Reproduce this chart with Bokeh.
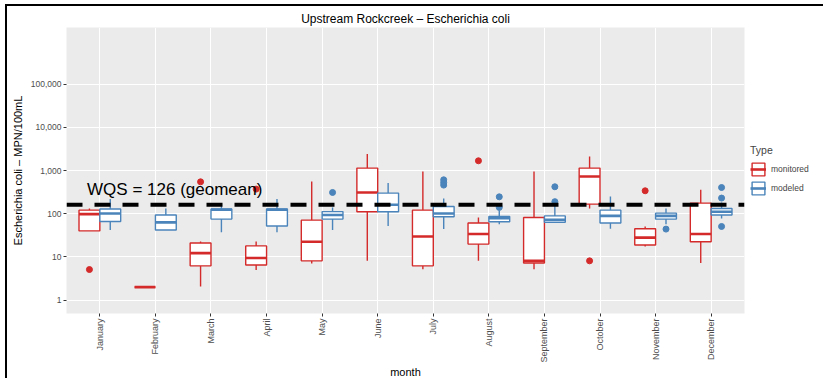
import numpy as np
from bokeh.plotting import figure
from bokeh.models import (Range1d, FixedTicker, NumeralTickFormatter, Span, Label,
                          Legend, LegendItem, ColumnDataSource)
from bokeh.embed import file_html
from bokeh.resources import INLINE

months = ["January", "February", "March", "April", "May", "June", "July",
          "August", "September", "October", "November", "December"]

# monitored (red) box statistics
mon_lo  = [40, 2, 2.06, 5.0, 7.0, 8.1, 5.2, 8.1, 5.2, 132, 17.4, 7.2]
mon_q1  = [40, 2, 6.2, 6.5, 8.1, 111, 6.2, 19.8, 7.2, 167, 18.8, 22.4]
mon_med = [98, 2, 12.2, 9.4, 22.4, 310, 29.7, 34, 8.1, 726, 28, 34]
mon_q3  = [121, 2, 20.9, 18, 71, 1136, 121, 61, 82, 1136, 45, 176]
mon_hi  = [132, 2, 22.7, 22.7, 556, 2398, 948, 82, 948, 2110, 50.5, 357]
mon_out_month = ["January", "March", "April", "August", "October", "November"]
mon_out_value = [5.1, 547, 371, 1678, 8.1, 339]

# modeled (blue) box statistics
mod_lo  = [42, 42, 37, 37, 42, 52, 44, 57, 63, 45, 57, 77]
mod_q1  = [66, 42, 75, 52, 75, 111, 85, 65, 63, 61, 75, 93]
mod_med = [101, 63, 123, 123, 93, 161, 101, 79, 72, 89, 89, 111]
mod_q3  = [128, 93, 128, 128, 112, 300, 147, 86, 89, 121, 103, 132]
mod_hi  = [218, 132, 172, 218, 139, 511, 225, 118, 170, 250, 132, 182]
mod_out_month = ["May", "July", "July", "July", "August", "August",
                 "September", "September", "November", "December", "December", "December"]
mod_out_value = [310, 459, 527, 609, 246, 140, 190, 420, 44, 230, 404, 50.6]

wqs_value = 161
wqs_text = "WQS = 126 (geomean)"

RED = "#D42A2A"
BLUE = "#4A84BA"
FONT = "Liberation Sans"

p = figure(frame_width=678, frame_height=286, output_backend="svg", toolbar_location=None,
           y_axis_type="log",
           x_range=Range1d(0.4, 12.6), y_range=Range1d(10 ** -0.31, 10 ** 6.31),
           min_border_left=66, min_border_right=78, min_border_top=27, min_border_bottom=65,
           title="Upstream Rockcreek – Escherichia coli",
           x_axis_label="month", y_axis_label="Escherichia coli – MPN/100mL")

p.background_fill_color = "#EBEBEB"
p.border_fill_color = None
p.outline_line_color = None
# slide frame lines (top and left edges of the screenshot) drawn as page background
p.styles = {
    "background-color": "white",
    "background-image": "linear-gradient(black, black), linear-gradient(black, black)",
    "background-size": "100% 2px, 2px 100%",
    "background-position": "5px 4px, 5px 4px",
    "background-repeat": "no-repeat",
}

idx = {m: i + 1 for i, m in enumerate(months)}
off = 0.1875
bw = 0.375


def draw(lo, q1, med, q3, hi, om, ov, color, shift):
    xs = [i + 1 + shift for i in range(len(months))]
    src = ColumnDataSource(dict(x=xs, lo=lo, q1=q1, med=med, q3=q3, hi=hi,
                                x0=[x - bw / 2 for x in xs], x1=[x + bw / 2 for x in xs]))
    p.segment(x0="x", y0="q3", x1="x", y1="hi", source=src, line_color=color, line_width=1.4)
    p.segment(x0="x", y0="q1", x1="x", y1="lo", source=src, line_color=color, line_width=1.4)
    box = p.vbar(x="x", bottom="q1", top="q3", width=bw, source=src,
                 fill_color="white", line_color=color, line_width=1.4)
    medr = p.segment(x0="x0", y0="med", x1="x1", y1="med", source=src,
                     line_color=color, line_width=2.6)
    osrc = ColumnDataSource(dict(x=[idx[m] + shift for m in om], y=ov))
    p.scatter(x="x", y="y", source=osrc, size=6, fill_color=color, line_color=color)
    return box, medr


rb, rm = draw(mon_lo, mon_q1, mon_med, mon_q3, mon_hi, mon_out_month, mon_out_value, RED, -off)
bb, bm = draw(mod_lo, mod_q1, mod_med, mod_q3, mod_hi, mod_out_month, mod_out_value, BLUE, off)

# WQS reference line and label
p.add_layout(Span(location=wqs_value, dimension="width", line_color="black",
                  line_width=4, line_dash="16 12"))
p.add_layout(Label(x=0.77, y=218, text=wqs_text, text_font=FONT,
                   text_font_size="17px", text_color="black"))

# axes
p.xaxis.ticker = FixedTicker(ticks=list(range(1, 13)), minor_ticks=[])
p.xaxis.major_label_overrides = {i + 1: m for i, m in enumerate(months)}
p.xaxis.major_label_orientation = np.pi / 2
p.yaxis.ticker = FixedTicker(ticks=[1, 10, 100, 1000, 10000, 100000], minor_ticks=[])
p.yaxis.formatter = NumeralTickFormatter(format="0,0")
for ax in (p.xaxis, p.yaxis):
    ax.axis_line_color = None
    ax.major_tick_line_color = "#333333"
    ax.major_tick_in = 0
    ax.major_tick_out = 3
    ax.minor_tick_line_color = None
    ax.major_label_text_font = FONT
    ax.major_label_text_font_size = "8.5px"
    ax.major_label_text_color = "#4D4D4D"
    ax.major_label_standoff = 2
    ax.axis_label_text_font = FONT
    ax.axis_label_text_font_size = "11px"
    ax.axis_label_text_font_style = "normal"
    ax.axis_label_text_color = "black"
    ax.axis_label_standoff = 4
p.xaxis.major_label_text_font_size = "9px"
p.xaxis.axis_label_standoff = 0

p.xgrid.ticker = FixedTicker(ticks=list(range(1, 13)))
p.ygrid.ticker = FixedTicker(ticks=[1, 10, 100, 1000, 10000, 100000])
p.grid.grid_line_color = "white"
p.grid.grid_line_width = 1.1

p.title.align = "center"
p.title.text_font = FONT
p.title.text_font_size = "12px"
p.title.text_font_style = "normal"
p.title.text_color = "black"
p.title.standoff = 4

legend = Legend(items=[LegendItem(label="monitored", renderers=[rb, rm]),
                       LegendItem(label="modeled", renderers=[bb, bm])],
                title="Type", location="center_left")
legend.title_text_font = FONT
legend.title_text_font_size = "10.5px"
legend.title_text_font_style = "normal"
legend.label_text_font = FONT
legend.label_text_font_size = "8.5px"
legend.glyph_width = 16
legend.glyph_height = 16
legend.spacing = 3
legend.padding = 4
legend.margin = 6
legend.border_line_color = None
legend.background_fill_alpha = 0
p.add_layout(legend, "right")

open("out.html", "w").write(file_html(p, INLINE))
